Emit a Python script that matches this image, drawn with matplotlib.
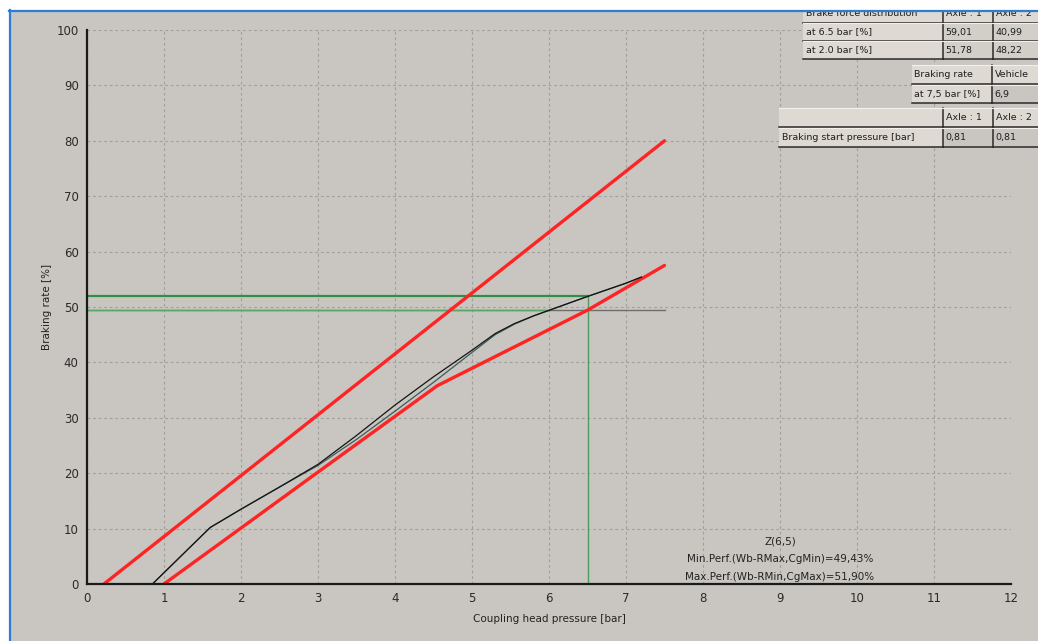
import matplotlib
matplotlib.use("Agg")
import matplotlib.pyplot as plt
from matplotlib.patches import Rectangle
from matplotlib.lines import Line2D

# ---- data -------------------------------------------------------------
pressure_ticks = list(range(0, 13))
rate_ticks = list(range(0, 101, 10))

# upper / lower limit bands (red)
upper_x = [0.22, 7.5]
upper_y = [0.0, 80.0]
lower_x = [1.0, 3.0, 4.55, 6.5, 7.5]
lower_y = [0.0, 20.2, 35.8, 49.43, 57.5]

# measured braking rate curves
curve_a_x = [0.85, 1.6, 2.0, 2.5, 3.0, 3.5, 4.0, 4.5, 5.0, 5.3, 5.55, 5.8, 6.0, 6.5, 7.0, 7.2]
curve_a_y = [0.0, 10.2, 13.5, 17.5, 21.6, 26.8, 32.3, 37.4, 42.2, 45.2, 47.0, 48.4, 49.4, 51.9, 54.3, 55.4]
curve_b_x = [0.85, 1.6, 2.0, 2.5, 3.0, 3.5, 4.0, 4.5, 5.0, 5.3, 5.55, 5.8, 6.0, 6.5, 7.0, 7.2]
curve_b_y = [0.0, 10.2, 13.5, 17.5, 21.4, 26.1, 31.2, 36.4, 41.8, 45.0, 46.9, 48.4, 49.4, 51.9, 54.3, 55.4]

ref_pressure = 6.5
max_perf = 51.90
min_perf = 49.43
min_line_end = 7.5
min_green_end = 6.0

annot_lines = ["Z(6,5)",
               "Min.Perf.(Wb-RMax,CgMin)=49,43%",
               "Max.Perf.(Wb-RMin,CgMax)=51,90%"]

dist_header = ["Brake force distribution", "Axle : 1", "Axle : 2"]
dist_rows = [["at 6.5 bar [%]", "59,01", "40,99"],
             ["at 2.0 bar [%]", "51,78", "48,22"]]
rate_header = ["Braking rate", "Vehicle"]
rate_row = ["at 7,5 bar [%]", "6,9"]
start_header = ["", "Axle : 1", "Axle : 2"]
start_row = ["Braking start pressure [bar]", "0,81", "0,81"]

# ---- figure -----------------------------------------------------------
W, H = 1038, 641
BG = "#c9c6c1"
fig = plt.figure(figsize=(W / 100, H / 100), dpi=100, facecolor=BG)
plt.rcParams["font.family"] = ["DejaVu Sans"]


def fx(px):
    return px / W


def fy(py):
    return 1 - py / H


ax = fig.add_axes([fx(87), fy(584), fx(1011) - fx(87), fy(30) - fy(584)])
ax.set_facecolor(BG)
ax.set_xlim(0, 12)
ax.set_ylim(0, 100)
ax.set_xticks(pressure_ticks)
ax.set_yticks(rate_ticks)
ax.tick_params(axis="both", length=0, labelsize=8.5, labelcolor="#2a2a2a", pad=6)
for s in ("top", "right"):
    ax.spines[s].set_visible(False)
for s in ("left", "bottom"):
    ax.spines[s].set_linewidth(1.6)
    ax.spines[s].set_color("#1a1a1a")
    ax.spines[s].set_zorder(6)
ax.grid(True, color="#a2a09c", linestyle=(0, (2.5, 2.5)), linewidth=0.8)
ax.set_axisbelow(True)

ax.set_xlabel("Coupling head pressure [bar]", fontsize=7.5, color="#222222", labelpad=6)
ax.set_ylabel("Braking rate [%]", fontsize=7.5, color="#222222", labelpad=3)

# reference lines
ax.plot([0, min_line_end], [min_perf, min_perf], color="#6e6e6e", lw=1.0, zorder=3)
ax.plot([0, min_green_end], [min_perf, min_perf], color="#58a868", lw=1.0, zorder=3)
ax.plot([0, ref_pressure], [max_perf, max_perf], color="#2f8f45", lw=1.6, zorder=3)
ax.plot([ref_pressure, ref_pressure], [0, max_perf], color="#4c9c5c", lw=1.0, zorder=3)

# limit lines
ax.plot(upper_x, upper_y, color="#ff2424", lw=2.4, zorder=4, solid_capstyle="round")
ax.plot(lower_x, lower_y, color="#ff2424", lw=2.4, zorder=4, solid_capstyle="round")

# measured curves
ax.plot(curve_b_x, curve_b_y, color="#3c5a5a", lw=0.9, zorder=5)
ax.plot(curve_a_x, curve_a_y, color="#151515", lw=0.9, zorder=5)

for txt, yv in zip(annot_lines, [7.6, 4.5, 1.3]):
    ax.text(9.0, yv, txt, ha="center", va="center",
            fontsize=7.5, color="#222222", zorder=6)

# ---- info table in the upper right corner ------------------------------
LIGHT = "#dedad3"
VALUE = "#d2cec8"
DARK_EDGE = "#2a2a2a"


def cell(x0, y0, x1, y1, text, fill):
    fig.patches.append(Rectangle((fx(x0), fy(y1)), fx(x1) - fx(x0), fy(y0) - fy(y1),
                                 transform=fig.transFigure, facecolor=fill,
                                 edgecolor="none", zorder=2))
    fig.lines.append(Line2D([fx(x0), fx(x1)], [fy(y1), fy(y1)], transform=fig.transFigure,
                            color=DARK_EDGE, lw=1.1, zorder=3))
    fig.lines.append(Line2D([fx(x1), fx(x1)], [fy(y0), fy(y1)], transform=fig.transFigure,
                            color=DARK_EDGE, lw=1.1, zorder=3))
    fig.lines.append(Line2D([fx(x0), fx(x1)], [fy(y0), fy(y0)], transform=fig.transFigure,
                            color="#f2f0ec", lw=0.8, zorder=3))
    if text:
        fig.text(fx(x0 + 2.5), fy((y0 + y1) / 2), text, ha="left", va="center",
                 fontsize=6.8, color="#1e1e1e", zorder=4)


cols3 = [(803, 943), (943, 993), (993, 1040)]
for j, (c0, c1) in enumerate(cols3):
    cell(c0, 4, c1, 23, dist_header[j], LIGHT)
for row, (y0, y1) in zip(dist_rows, [(23, 41), (41, 59)]):
    for j, (c0, c1) in enumerate(cols3):
        cell(c0, y0, c1, y1, row[j], LIGHT if j == 0 else VALUE)

cols2 = [(912, 992), (992, 1040)]
for j, (c0, c1) in enumerate(cols2):
    cell(c0, 65, c1, 84, rate_header[j], LIGHT)
for j, (c0, c1) in enumerate(cols2):
    cell(c0, 85, c1, 103, rate_row[j], LIGHT if j == 0 else BG)

cols3b = [(779, 943), (943, 993), (993, 1040)]
for j, (c0, c1) in enumerate(cols3b):
    cell(c0, 108, c1, 127, start_header[j], LIGHT)
for j, (c0, c1) in enumerate(cols3b):
    cell(c0, 128, c1, 147, start_row[j], LIGHT if j == 0 else BG)

# window frame: white margin with a blue border line
fig.patches.append(Rectangle((0, fy(10)), 1, 1 - fy(10), transform=fig.transFigure,
                             facecolor="white", edgecolor="none", zorder=10))
fig.patches.append(Rectangle((0, 0), fx(9), 1, transform=fig.transFigure,
                             facecolor="white", edgecolor="none", zorder=10))
fig.lines.append(Line2D([fx(9), 1], [fy(10.5), fy(10.5)], transform=fig.transFigure,
                        color="#2a7fd4", lw=1.6, zorder=11))
fig.lines.append(Line2D([fx(9.5), fx(9.5)], [0, fy(10)], transform=fig.transFigure,
                        color="#2a7fd4", lw=1.6, zorder=11))

fig.savefig("out.png", dpi=100, facecolor=BG)
